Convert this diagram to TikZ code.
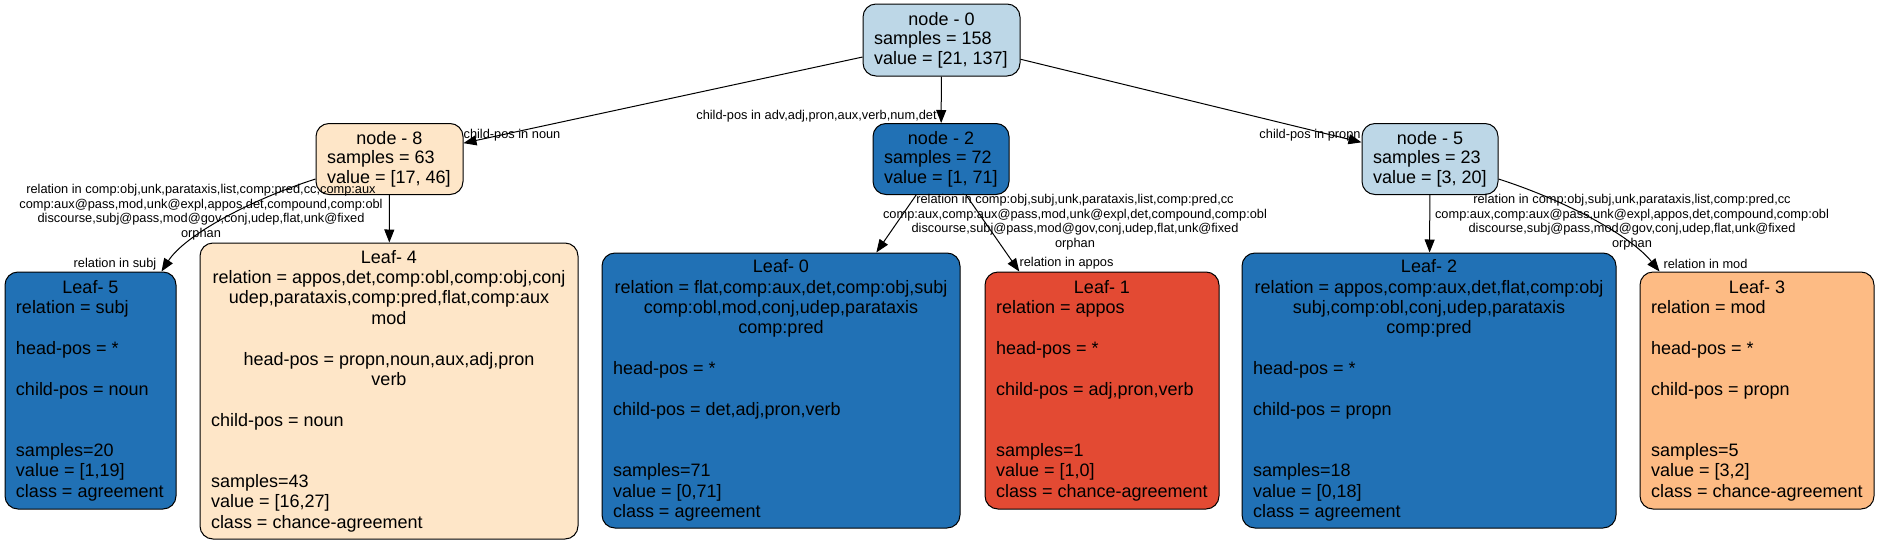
\documentclass[tikz,border=0pt]{standalone}
\usepackage{fontspec}
\setmainfont{Liberation Sans}
\usetikzlibrary{arrows.meta}
\definecolor{cLightBlue}{HTML}{BDD7E7}
\definecolor{cPeach}{HTML}{FEE6C8}
\definecolor{cBlue}{HTML}{2171B5}
\definecolor{cRed}{HTML}{E34A33}
\definecolor{cOrange}{HTML}{FDBB84}
\newcommand\lnC[1]{\hbox to\hsize{\hss#1\hss}}
\newcommand\lnL[1]{\hbox to\hsize{#1\hss}}
\newcommand\blk[2]{\vbox{\hsize=#1\relax #2}}
\begin{document}
\begin{tikzpicture}[x=1pt,y=-1pt,
  box/.style={draw=black, line width=1pt, rounded corners=13pt, inner sep=0pt, font=\fontsize{18}{19.5}\selectfont},
  inode/.style={box, minimum height=71pt},
  leafbox/.style={box, font=\fontsize{18}{20.4}\selectfont},
  edge/.style={draw=black, line width=1pt, -{Triangle[length=13pt,width=10pt]}},
  elabel/.style={inner sep=0pt, align=center, font=\fontsize{12.8}{14.5}\selectfont}]
\fill[white] (0,0) rectangle (1880,544);
% internal nodes
\node[inode, fill=cLightBlue, minimum width=157pt, minimum height=72pt] (n0) at (941.5,40)
  {\blk{135pt}{\lnC{node - 0}\lnL{samples = 158}\lnL{value = [21, 137]}}};
\node[inode, fill=cPeach, minimum width=147pt] (n8) at (389.5,159)
  {\blk{125pt}{\lnC{node - 8}\lnL{samples = 63}\lnL{value = [17, 46]}}};
\node[inode, fill=cBlue, minimum width=136pt] (n2) at (941,159)
  {\blk{114pt}{\lnC{node - 2}\lnL{samples = 72}\lnL{value = [1, 71]}}};
\node[inode, fill=cLightBlue, minimum width=136pt] (n5) at (1430,159)
  {\blk{114pt}{\lnC{node - 5}\lnL{samples = 23}\lnL{value = [3, 20]}}};
% leaves
\node[leafbox, fill=cBlue, minimum width=171pt, minimum height=237pt] (l5) at (90.5,390.5)
  {\blk{149pt}{\lnC{Leaf- 5}\lnL{relation = subj}\lnL{}\lnL{head-pos = *}\lnL{}\lnL{child-pos = noun}\lnL{}\lnL{}\lnL{samples=20}\lnL{value = [1,19]}\lnL{class = agreement}}};
\node[leafbox, fill=cPeach, minimum width=378pt, minimum height=296pt] (l4) at (389,391)
  {\blk{356pt}{\lnC{Leaf- 4}\lnC{relation = appos,det,comp:obl,comp:obj,conj}\lnC{udep,parataxis,comp:pred,flat,comp:aux}\lnC{mod}\lnL{}\lnC{head-pos = propn,noun,aux,adj,pron}\lnC{verb}\lnL{}\lnL{child-pos = noun}\lnL{}\lnL{}\lnL{samples=43}\lnL{value = [16,27]}\lnL{class = chance-agreement}}};
\node[leafbox, fill=cBlue, minimum width=358pt, minimum height=275pt] (l0) at (781,390.5)
  {\blk{336pt}{\lnC{Leaf- 0}\lnC{relation = flat,comp:aux,det,comp:obj,subj}\lnC{comp:obl,mod,conj,udep,parataxis}\lnC{comp:pred}\lnL{}\lnL{head-pos = *}\lnL{}\lnL{child-pos = det,adj,pron,verb}\lnL{}\lnL{}\lnL{samples=71}\lnL{value = [0,71]}\lnL{class = agreement}}};
\node[leafbox, fill=cRed, minimum width=234pt, minimum height=237pt] (l1) at (1102,390.5)
  {\blk{212pt}{\lnC{Leaf- 1}\lnL{relation = appos}\lnL{}\lnL{head-pos = *}\lnL{}\lnL{child-pos = adj,pron,verb}\lnL{}\lnL{}\lnL{samples=1}\lnL{value = [1,0]}\lnL{class = chance-agreement}}};
\node[leafbox, fill=cBlue, minimum width=374pt, minimum height=275pt] (l2) at (1429,390.5)
  {\blk{352pt}{\lnC{Leaf- 2}\lnC{relation = appos,comp:aux,det,flat,comp:obj}\lnC{subj,comp:obl,conj,udep,parataxis}\lnC{comp:pred}\lnL{}\lnL{head-pos = *}\lnL{}\lnL{child-pos = propn}\lnL{}\lnL{}\lnL{samples=18}\lnL{value = [0,18]}\lnL{class = agreement}}};
\node[leafbox, fill=cOrange, minimum width=234pt, minimum height=237pt] (l3) at (1757,390.5)
  {\blk{212pt}{\lnC{Leaf- 3}\lnL{relation = mod}\lnL{}\lnL{head-pos = *}\lnL{}\lnL{child-pos = propn}\lnL{}\lnL{}\lnL{samples=5}\lnL{value = [3,2]}\lnL{class = chance-agreement}}};
% edges
\draw[edge] (n0) -- (n8);
\draw[edge] (n0) -- (n2);
\draw[edge] (n0) -- (n5);
\draw[edge] ([yshift=-20pt]n8.west) .. controls (250,200) and (185,235) .. ([xshift=-15pt]l5.north east);
\draw[edge] (n8) -- (l4);
\draw[edge] (n2) -- (l0);
\draw[edge] (n2) -- (l1);
\draw[edge] (n5) -- (l2);
\draw[edge] ([yshift=-20pt]n5.east) .. controls (1564,200) and (1630,235) .. ([xshift=20pt]l3.north west);
% edge labels
\node[elabel] (t08) at (512,135) {child-pos in noun};
\node[elabel] (t02) at (816.5,116) {child-pos in adv,adj,pron,aux,verb,num,det};
\node[elabel] (t05) at (1310,135) {child-pos in propn};
\node[elabel] (t8a) at (201,212) {relation in comp:obj,unk,parataxis,list,comp:pred,cc,comp:aux\\comp:aux@pass,mod,unk@expl,appos,det,compound,comp:obl\\discourse,subj@pass,mod@gov,conj,udep,flat,unk@fixed\\orphan};
\node[elabel] (t8b) at (115,264) {relation in subj};
\node[elabel] (t2a) at (1075,222) {relation in comp:obj,subj,unk,parataxis,list,comp:pred,cc\\comp:aux,comp:aux@pass,mod,unk@expl,det,compound,comp:obl\\discourse,subj@pass,mod@gov,conj,udep,flat,unk@fixed\\orphan};
\node[elabel] (t2b) at (1066.5,263) {relation in appos};
\node[elabel] (t5a) at (1632,222) {relation in comp:obj,subj,unk,parataxis,list,comp:pred,cc\\comp:aux,comp:aux@pass,unk@expl,appos,det,compound,comp:obl\\discourse,subj@pass,mod@gov,conj,udep,flat,unk@fixed\\orphan};
\node[elabel] (t5b) at (1705.5,264) {relation in mod};
\end{tikzpicture}
\end{document}
